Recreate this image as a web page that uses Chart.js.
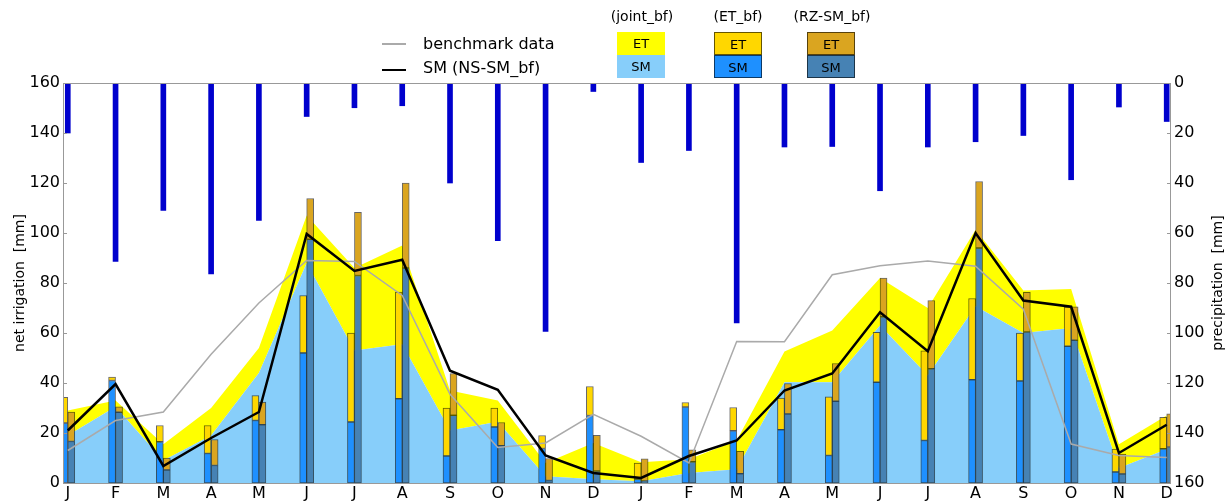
<!DOCTYPE html>
<html>
<head>
<meta charset="utf-8">
<script src="https://cdn.jsdelivr.net/npm/chart.js@4.4.0/dist/chart.umd.min.js"></script>
<style>
body{margin:0;background:#fff;font-family:"DejaVu Sans",sans-serif;}
#wrap{position:relative;width:1226px;height:501px;}
canvas{position:absolute;left:0;top:0;}
.t{position:absolute;white-space:nowrap;color:#000;}
.lbl{font-size:16px;line-height:20px;}
.hd{font-size:14px;line-height:16px;width:100px;text-align:center;}
.box{position:absolute;width:48px;height:23px;font-size:13px;line-height:23px;text-align:center;box-sizing:border-box;}
.rot{font-size:14px;line-height:16px;width:240px;text-align:center;transform:rotate(-90deg);}
</style>
</head>
<body>
<div id="wrap">
<canvas id="myChart" width="1226" height="501"></canvas>

<div class="t" style="left:382px;top:43px;width:24px;height:1.5px;background:#aaa"></div>
<div class="t lbl" style="left:423px;top:34px">benchmark data</div>
<div class="t" style="left:382px;top:68.5px;width:24px;height:2.5px;background:#000"></div>
<div class="t lbl" style="left:423px;top:58px">SM (NS-SM_bf)</div>

<div class="t hd" style="left:592px;top:8px">(joint_bf)</div>
<div class="box" style="left:617px;top:32px;background:#ffff00">ET</div>
<div class="box" style="left:617px;top:55px;background:#87cefa">SM</div>

<div class="t hd" style="left:688px;top:8px">(ET_bf)</div>
<div class="box" style="left:714px;top:32px;background:#ffd700;border:1px solid rgba(0,0,0,0.6)">ET</div>
<div class="box" style="left:714px;top:55px;background:#1e90ff;border:1px solid rgba(0,0,0,0.6)">SM</div>

<div class="t hd" style="left:782px;top:8px">(RZ-SM_bf)</div>
<div class="box" style="left:807px;top:32px;background:#daa520;border:1px solid rgba(0,0,0,0.6)">ET</div>
<div class="box" style="left:807px;top:55px;background:#4682b4;border:1px solid rgba(0,0,0,0.6)">SM</div>

<div class="t rot" style="left:-101px;top:275px">net irrigation&nbsp; [mm]</div>
<div class="t rot" style="left:1097px;top:275px">precipitation&nbsp; [mm]</div>
</div>

<script>
const months = ['J','F','M','A','M','J','J','A','S','O','N','D',
                'J','F','M','A','M','J','J','A','S','O','N','D'];

// joint_bf (stacked area)
const jointSM = [19, 30.5, 9, 19, 44, 88, 53, 55.5, 21, 24.5, 2.7, 1.5,
                 0.7, 4, 5.5, 40.3, 40.3, 63, 43, 70.7, 60, 62, 6, 13.5];
const jointET = [10, 2.5, 6.5, 11, 10, 19, 33, 39.5, 16, 8.5, 5.3, 14.5,
                 7.6, 5.5, 11.5, 12.3, 20.7, 19, 27, 30.6, 17, 15.6, 9.5, 13.5];

// ET_bf bars
const etbfSM = [24, 41, 16.5, 11.8, 25, 52, 24.4, 33.7, 10.8, 22.4, 13.8, 27,
                1.6, 30.4, 20.9, 21.3, 11, 40.3, 17, 41.3, 40.8, 54.7, 4.4, 13.7];
const etbfET = [10.3, 1.4, 6.5, 11.2, 10, 23, 35.6, 42.7, 19.2, 7.6, 5.2, 11.6,
                6.4, 1.8, 9.3, 12.7, 23.5, 20, 35.9, 32.5, 19.2, 15.7, 9.2, 12.6];

// RZ-SM_bf bars
const rzSM = [16.6, 28.3, 5.2, 7, 23.3, 97.5, 83, 86, 27.1, 14.9, 1, 4.8,
              0.8, 8.5, 3.7, 27.6, 32.7, 66.5, 45.7, 94, 60.4, 57.1, 3.6, 14.4];
const rzET = [11.8, 2.2, 4.8, 10.4, 9.1, 16.3, 25.3, 34, 16.7, 9.3, 8.8, 14.3,
              8.9, 4.8, 9, 12.2, 15.1, 15.5, 27.3, 26.6, 15.9, 13.4, 8, 13.3];

// lines
const benchmark = [13, 25, 28.4, 51.5, 72, 89, 88.6, 75, 35.5, 14.2, 16, 27.5,
                   18.7, 8, 56.6, 56.5, 83.3, 86.9, 88.8, 86.7, 69.5, 15.6, 11, 10.2];
const smLine = [21, 39.6, 6.8, 18, 28.4, 99.6, 84.8, 89.3, 44.9, 37.3, 11, 4,
                2, 10.8, 17, 37, 43.8, 68.3, 52.7, 100, 73, 70.5, 12, 23.3];

// precipitation (right axis, reversed)
const precip = [20, 71.4, 51, 76.4, 55, 13.4, 9.9, 9.1, 40, 63.1, 99.4, 3.4,
                31.8, 27, 96, 25.6, 25.4, 43.1, 25.6, 23.5, 21, 38.7, 9.6, 15.4];

const pts = arr => arr.map((v, i) => ({x: i, y: v}));
const fam = '"DejaVu Sans", sans-serif';

const frame = {
  id: 'frame',
  afterDatasetsDraw(chart) {
    const {ctx, chartArea: a, scales} = chart;
    ctx.save();
    ctx.strokeStyle = '#999';
    ctx.lineWidth = 1;
    ctx.strokeRect(a.left + 0.5, a.top + 0.5, a.right - a.left - 1, a.bottom - a.top);
    ctx.beginPath();
    scales.y.ticks.forEach(t => {
      const py = Math.round(scales.y.getPixelForValue(t.value)) + 0.5;
      ctx.moveTo(a.left, py); ctx.lineTo(a.left + 4, py);
    });
    scales.y2.ticks.forEach(t => {
      const py = Math.round(scales.y2.getPixelForValue(t.value)) + 0.5;
      ctx.moveTo(a.right, py); ctx.lineTo(a.right - 4, py);
    });
    ctx.stroke();
    ctx.restore();
  }
};

const barEdge = 'rgba(0,0,0,0.6)';

new Chart(document.getElementById('myChart'), {
  type: 'bar',
  data: {
    datasets: [
      {type: 'line', label: 'SM (NS-SM_bf)', data: pts(smLine), borderColor: '#000', borderWidth: 2.5,
       pointRadius: 0, fill: false, stack: 'sm', order: 0, yAxisID: 'y'},
      {type: 'line', label: 'benchmark data', data: pts(benchmark), borderColor: '#aaaaaa', borderWidth: 1.5,
       pointRadius: 0, fill: false, stack: 'bench', order: 1, yAxisID: 'y'},
      {label: 'precipitation', data: pts(precip), backgroundColor: '#0000cd', borderWidth: 0,
       grouped: false, barThickness: 5, stack: 'p', order: 2, yAxisID: 'y2'},
      {label: 'ET_bf SM', data: pts(etbfSM), backgroundColor: '#1e90ff', borderColor: barEdge,
       borderWidth: 1, borderSkipped: false, barThickness: 7, stack: 'et', order: 3, yAxisID: 'y'},
      {label: 'ET_bf ET', data: pts(etbfET), backgroundColor: '#ffd700', borderColor: barEdge,
       borderWidth: 1, borderSkipped: false, barThickness: 7, stack: 'et', order: 3, yAxisID: 'y'},
      {label: 'RZ-SM_bf SM', data: pts(rzSM), backgroundColor: '#4682b4', borderColor: barEdge,
       borderWidth: 1, borderSkipped: false, barThickness: 7, stack: 'rz', order: 4, yAxisID: 'y'},
      {label: 'RZ-SM_bf ET', data: pts(rzET), backgroundColor: '#daa520', borderColor: barEdge,
       borderWidth: 1, borderSkipped: false, barThickness: 7, stack: 'rz', order: 4, yAxisID: 'y'},
      {type: 'line', label: 'joint_bf SM', data: pts(jointSM), backgroundColor: '#87cefa', borderWidth: 0,
       pointRadius: 0, fill: 'origin', stack: 'joint', order: 5, yAxisID: 'y'},
      {type: 'line', label: 'joint_bf ET', data: pts(jointET), backgroundColor: '#ffff00', borderWidth: 0,
       pointRadius: 0, fill: '-1', stack: 'joint', order: 5, yAxisID: 'y'}
    ]
  },
  options: {
    responsive: false,
    devicePixelRatio: 1,
    animation: false,
    events: [],
    layout: {padding: {top: 83, left: 0, right: 0, bottom: 0}},
    plugins: {legend: {display: false}, tooltip: {enabled: false}},
    scales: {
      x: {
        type: 'linear', min: -0.1, max: 23.09, offset: false,
        afterBuildTicks(s) { s.ticks = months.map((m, i) => ({value: i})); },
        ticks: {callback: v => months[v], autoSkip: false, maxRotation: 0, padding: 1,
                color: '#000', font: {size: 16, family: fam}},
        grid: {display: false, drawTicks: false},
        border: {display: false},
        afterFit(s) { s.height = 18; }
      },
      y: {
        position: 'left', min: 0, max: 160,
        ticks: {stepSize: 20, padding: 3, color: '#000', font: {size: 16, family: fam}},
        grid: {display: false, drawTicks: false},
        border: {display: false},
        afterFit(s) { s.width = 63; }
      },
      y2: {
        position: 'right', min: 0, max: 160, reverse: true,
        ticks: {stepSize: 20, padding: 3, color: '#000', font: {size: 16, family: fam}},
        grid: {display: false, drawTicks: false},
        border: {display: false},
        afterFit(s) { s.width = 55; }
      }
    }
  },
  plugins: [frame]
});
</script>
</body>
</html>
